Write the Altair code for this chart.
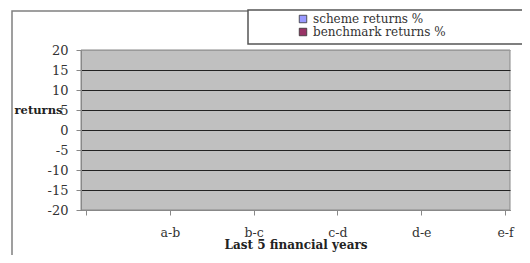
import altair as alt
import pandas as pd

# ---- data ----
categories = ["a-b", "b-c", "c-d", "d-e", "e-f"]
positions = [1, 2, 3, 4, 5]
scheme_returns = [None, None, None, None, None]
benchmark_returns = [None, None, None, None, None]
series_names = ["scheme returns %", "benchmark returns %"]
series_colors = ["#9999ff", "#993366"]
y_ticks = [-20, -15, -10, -5, 0, 5, 10, 15, 20]
x_ticks = [0, 1, 2, 3, 4, 5]

rows = []
for p, c, s, b in zip(positions, categories, scheme_returns, benchmark_returns):
    rows.append({"pos": p, "cat": c, "series": series_names[0], "value": s})
    rows.append({"pos": p, "cat": c, "series": series_names[1], "value": b})
df = pd.DataFrame(rows)

label_list = [""] + categories
label_expr = "[" + ",".join("'" + l + "'" for l in label_list) + "][datum.value]"

SERIF = "DejaVu Serif"

dummy = pd.DataFrame({"k": [0]})

outer = alt.Chart(dummy).mark_rect(
    fill="white", stroke="#808080", strokeWidth=1.5
).encode(
    x=alt.value(-69), x2=alt.value(460),
    y=alt.value(-39), y2=alt.value(215),
)

legend_box = alt.Chart(dummy).mark_rect(
    fill="white", stroke="#555555", strokeWidth=1.5
).encode(
    x=alt.value(167), x2=alt.value(470),
    y=alt.value(-40), y2=alt.value(-6),
)

plot_bg = alt.Chart(dummy).mark_rect(fill="#c0c0c0", stroke="#888888", strokeWidth=1).encode(
    x=alt.value(0), x2=alt.value(429),
    y=alt.value(0), y2=alt.value(160),
)

bars = alt.Chart(df).mark_bar(size=14).encode(
    x=alt.X(
        "pos:Q",
        scale=alt.Scale(domain=[0, 5], nice=False, zero=False),
        axis=alt.Axis(
            values=x_ticks,
            labelExpr=label_expr,
            title="Last 5  financial years",
            titleFont=SERIF, titleFontSize=12, titleFontWeight="bold",
            titleColor="#222222", titlePadding=1,
            labelFont=SERIF, labelFontSize=12.5, labelColor="#333333",
            labelPadding=11, tickSize=5, tickColor="#888888",
            domainColor="#888888", grid=False, zindex=2,
        ),
    ),
    y=alt.Y(
        "value:Q",
        scale=alt.Scale(domain=[-20, 20], nice=False),
        axis=alt.Axis(
            values=y_ticks,
            labelExpr="'' + datum.value",
            title="returns",
            titleAngle=0, titleX=-43, titleY=60, titleAlign="center",
            titleBaseline="middle",
            titleFont=SERIF, titleFontSize=11.5, titleFontWeight="bold",
            titleColor="#222222",
            labelFont=SERIF, labelFontSize=13, labelColor="#333333",
            labelPadding=8, tickSize=5, tickColor="#888888",
            domainColor="#888888",
            grid=True,
            gridColor=alt.condition("datum.value == 20", alt.value("#9a9a9a"), alt.value("#222222")),
            gridWidth=1, zindex=1,
        ),
    ),
    color=alt.Color(
        "series:N",
        scale=alt.Scale(domain=series_names, range=series_colors),
        legend=alt.Legend(
            orient="none", legendX=216, legendY=-37, title=None,
            symbolType="square", symbolSize=56, symbolStrokeColor="#333333",
            symbolStrokeWidth=0.8, symbolOpacity=1,
            labelFont=SERIF, labelFontSize=12, labelColor="#333333",
            labelOffset=4, rowPadding=1, padding=0,
        ),
    ),
)

chart = alt.layer(outer, legend_box, plot_bg, bars).properties(
    width=429, height=160,
    autosize=alt.AutoSizeParams(type="none"),
    padding={"left": 73, "top": 42, "right": 12, "bottom": 45},
    background="white",
).configure_view(stroke=None)

chart.save("out.html", embed_options={"renderer": "svg", "actions": False})
